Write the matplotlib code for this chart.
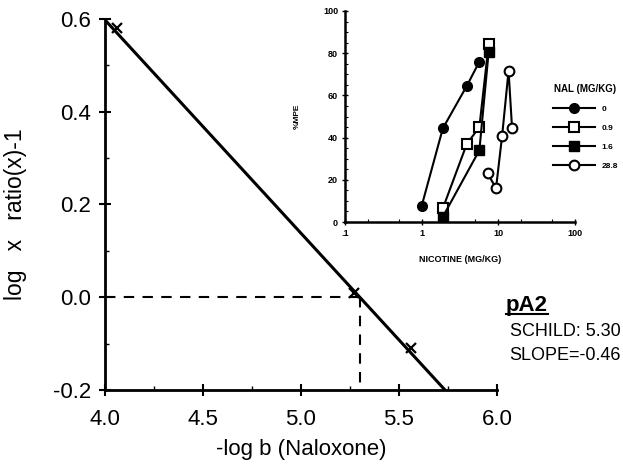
import numpy as np
import matplotlib
matplotlib.use("Agg")
import matplotlib.pyplot as plt
from matplotlib.ticker import MultipleLocator, LogLocator, FixedLocator
from matplotlib.lines import Line2D

plt.rcParams['font.family'] = ['Liberation Sans', 'DejaVu Sans']

# Schild plot
schild_x = [4.06, 5.27, 5.56]
schild_y = [0.58, 0.01, -0.11]
pA2 = 5.30
slope = -0.46
fit_x = [4.0, 5.739]

# inset dose-response curves (nicotine mg/kg vs %MPE)
nal_labels = ["0", "0.9", "1.6", "28.8"]
dose_0 = [1.0, 1.89, 3.88, 5.66]
mpe_0 = [7.6, 44.4, 64.5, 76]
dose_09 = [1.89, 3.88, 5.66, 7.48]
mpe_09 = [6.5, 37, 45, 84.4]
dose_16 = [1.89, 5.66, 7.48]
mpe_16 = [2.5, 34, 80.7]
dose_288 = [7.26, 9.33, 11.2, 13.6, 15.1]
mpe_288 = [23, 16, 40.8, 71.7, 44.4]


def main():
    fig = plt.figure(figsize=(6.23, 4.70), dpi=100)
    W, H = 623.0, 470.0
    ax = fig.add_axes([105 / W, 1 - 390 / H, (497 - 105) / W, (390 - 19) / H])

    fit_y = [slope * (x - pA2) for x in fit_x]
    ax.plot(fit_x, fit_y, color='black', lw=2.2, solid_capstyle='butt')
    ax.plot(schild_x, schild_y, 'x', color='black', ms=7, mew=1.6)
    ax.plot([4.0, pA2], [0, 0], '--', color='black', lw=1.5, dashes=(5, 4))
    ax.plot([pA2, pA2], [0, -0.2], '--', color='black', lw=1.5, dashes=(5, 4))

    ax.set_xlim(4.0, 6.0)
    ax.set_ylim(-0.2, 0.6)
    for s in ['top', 'right']:
        ax.spines[s].set_visible(False)
    for s in ['left', 'bottom']:
        ax.spines[s].set_linewidth(2)
    ax.xaxis.set_major_locator(MultipleLocator(0.5))
    ax.xaxis.set_minor_locator(MultipleLocator(0.25))
    ax.yaxis.set_major_locator(MultipleLocator(0.2))
    ax.yaxis.set_minor_locator(MultipleLocator(0.1))
    ax.tick_params(which='major', direction='inout', length=8, width=1.5, labelsize=16)
    ax.tick_params(axis='x', which='major', pad=10)
    ax.tick_params(axis='y', which='major', pad=6)
    ax.tick_params(which='minor', direction='in', length=3, width=1)
    ax.xaxis.set_major_formatter(matplotlib.ticker.FormatStrFormatter('%.1f'))
    ax.yaxis.set_major_formatter(matplotlib.ticker.FormatStrFormatter('%.1f'))
    ax.set_xlabel("-log b (Naloxone)", fontsize=16, labelpad=6)
    ax.set_ylabel("log   x   ratio(x)-1", fontsize=16.5)
    ax.yaxis.set_label_coords(-0.2, 0.474)

    t_pa2 = fig.text(527 / W, 1 - 305 / H, "pA2", fontsize=16, fontweight='bold',
                     ha='center', va='center')
    fig.text(565 / W, 1 - 331 / H, "SCHILD: %.2f" % pA2, fontsize=13,
             ha='center', va='center')
    fig.text(565 / W, 1 - 356 / H, "SLOPE=%.2f" % slope, fontsize=13,
             ha='center', va='center')

    # inset
    ins = fig.add_axes([345 / W, 1 - 222 / H, (575 - 345) / W, (222 - 11) / H])
    ins.plot(dose_0, mpe_0, '-o', color='black', mfc='black', ms=7, lw=1.5, label=nal_labels[0])
    ins.plot(dose_09, mpe_09, '-s', color='black', mfc='white', ms=6.5, mew=1.5, lw=1.5, label=nal_labels[1])
    ins.plot(dose_16, mpe_16, '-s', color='black', mfc='black', ms=6.5, lw=1.5, label=nal_labels[2])
    ins.plot(dose_288, mpe_288, '-o', color='black', mfc='white', ms=7, mew=1.5, lw=1.5, label=nal_labels[3])
    ins.set_xscale('log')
    ins.set_xlim(0.1, 100)
    ins.set_ylim(0, 100)
    for s in ['top', 'right']:
        ins.spines[s].set_visible(False)
    for s in ['left', 'bottom']:
        ins.spines[s].set_linewidth(1.8)
    ins.xaxis.set_major_locator(FixedLocator([0.1, 1, 10, 100]))
    ins.xaxis.set_major_formatter(matplotlib.ticker.FixedFormatter(['.1', '1', '10', '100']))
    ins.xaxis.set_minor_locator(LogLocator(base=10, subs=(2, 5)))
    ins.xaxis.set_minor_formatter(matplotlib.ticker.NullFormatter())
    ins.yaxis.set_major_locator(MultipleLocator(20))
    ins.yaxis.set_minor_locator(MultipleLocator(5))
    ins.tick_params(which='major', direction='inout', length=4, width=1, labelsize=6.5, pad=3)
    ins.tick_params(which='minor', direction='in', length=2, width=0.8)
    for lab in ins.get_xticklabels() + ins.get_yticklabels():
        lab.set_fontweight('bold')
    ins.set_xlabel("NICOTINE (MG/KG)", fontsize=6.5, fontweight='bold', labelpad=12)
    ins.set_ylabel("%MPE", fontsize=6, fontweight='bold', labelpad=16)

    leg = ins.legend(title="NAL (MG/KG)", loc='upper left', bbox_to_anchor=(0.89, 0.67),
                     frameon=False, fontsize=6, title_fontsize=7, handlelength=5,
                     labelspacing=1.35, handletextpad=0.8, borderaxespad=0)
    for t in leg.get_texts():
        t.set_fontweight('bold')
    leg.get_title().set_fontweight('bold')

    # underline pA2
    fig.canvas.draw()
    bb = t_pa2.get_window_extent().transformed(fig.transFigure.inverted())
    fig.add_artist(Line2D([bb.x0, bb.x1], [bb.y0 + 0.004, bb.y0 + 0.004],
                          transform=fig.transFigure, color='black', lw=1.5))

    fig.savefig("out.png", dpi=100)


if __name__ == "__main__":
    main()
